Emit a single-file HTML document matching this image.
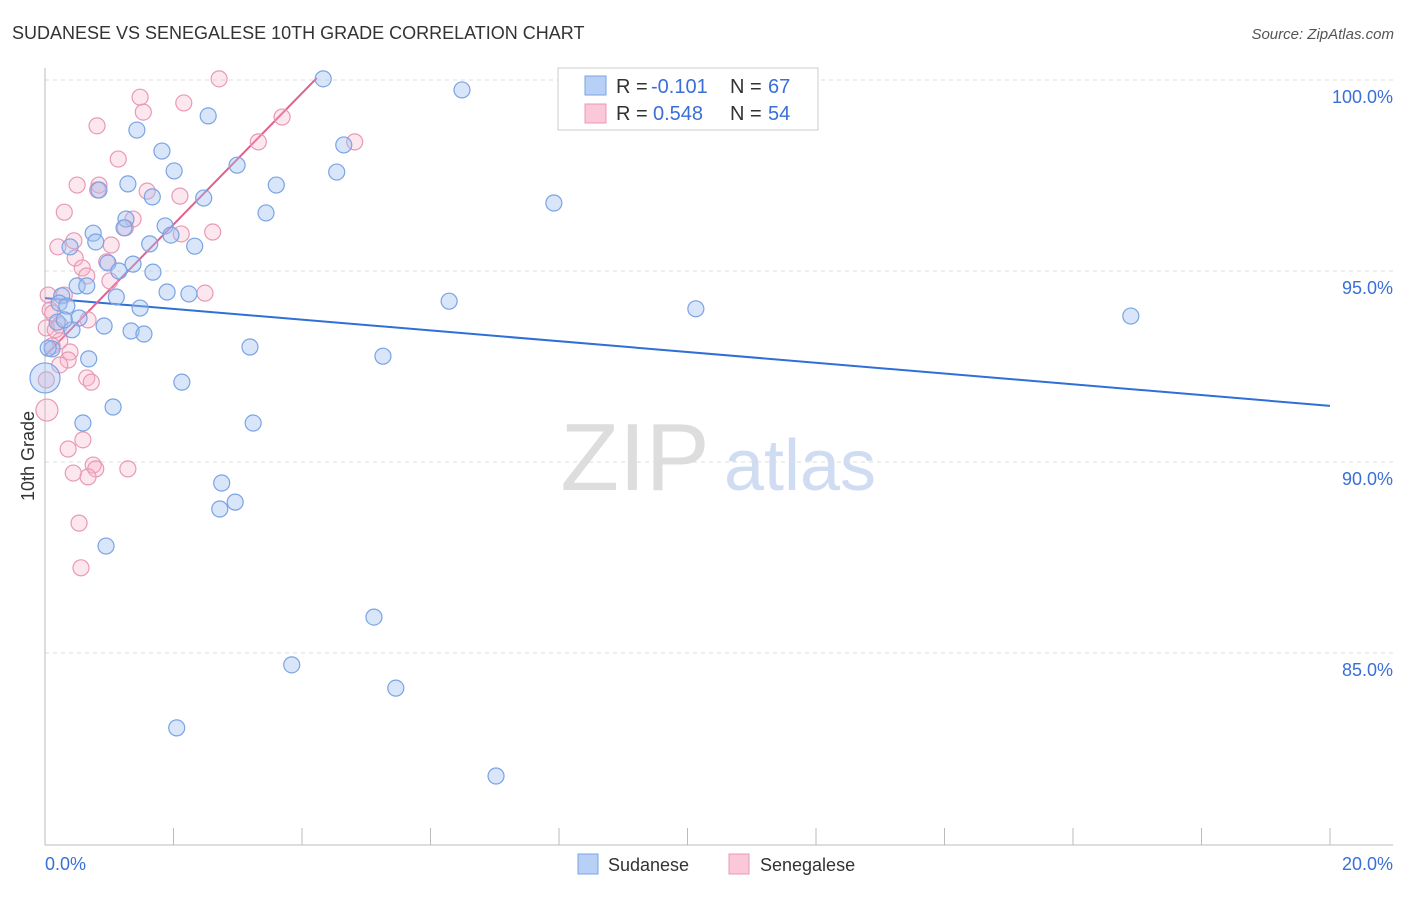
<!DOCTYPE html>
<html><head><meta charset="utf-8"><style>
body{margin:0;background:#fff;font-family:"Liberation Sans",sans-serif;}
svg text{font-family:"Liberation Sans",sans-serif;}
</style></head><body>
<svg id="chart" width="1406" height="892">
<text x="12" y="39" font-size="18" fill="#333">SUDANESE VS SENEGALESE 10TH GRADE CORRELATION CHART</text>
<text x="1394" y="39" font-size="15" fill="#555" font-style="italic" text-anchor="end">Source: ZipAtlas.com</text>
<text x="34" y="456" font-size="18" fill="#333" transform="rotate(-90 34 456)" text-anchor="middle">10th Grade</text>
<g>
<text x="635" y="490" font-size="96" fill="#ddd" font-family="Liberation Serif" text-anchor="middle">ZIP</text>
<text x="800" y="490" font-size="72" fill="#cfdcf2" text-anchor="middle">atlas</text></g>
<g id="grid"></g><g id="axes"></g><g id="trend"></g><g id="pts"></g>
<g>
<rect x="558" y="68" width="260" height="62" fill="#fff" stroke="#ccc"/>
<rect x="585" y="76" width="21" height="19" fill="#b8d0f5" stroke="#7aa3e5"/>
<rect x="585" y="104" width="21" height="19" fill="#fac8d8" stroke="#e899b5"/>
<text x="616" y="93" font-size="20" fill="#333">R =</text>
<text x="651" y="93" font-size="20" fill="#3a6fd8">-0.101</text>
<text x="730" y="93" font-size="20" fill="#333">N =</text>
<text x="768" y="93" font-size="20" fill="#3a6fd8">67</text>
<text x="616" y="120" font-size="20" fill="#333">R =</text>
<text x="653" y="120" font-size="20" fill="#3a6fd8">0.548</text>
<text x="730" y="120" font-size="20" fill="#333">N =</text>
<text x="768" y="120" font-size="20" fill="#3a6fd8">54</text>
</g>
<g>
<rect x="578" y="854" width="20" height="20" fill="#b8d0f5" stroke="#7aa3e5"/>
<text x="608" y="871" font-size="18" fill="#333">Sudanese</text>
<rect x="729" y="854" width="20" height="20" fill="#fac8d8" stroke="#e899b5"/>
<text x="760" y="871" font-size="18" fill="#333">Senegalese</text>
</g>
</svg>
<script>
const yTicks=[100,95,90,85];
const yTickLabels=["100.0%","95.0%","90.0%","85.0%"];
const xTicks=[0,2,4,6,8,10,12,14,16,18,20];
const xEndLabels=["0.0%","20.0%"];
const sudX=[4.33,6.49,2.54,1.43,4.65,1.82,2.01,2.99,4.54,1.29,3.60,0.84,1.67,2.47,7.92,3.44,1.26,1.23,1.87,0.75,1.96,0.39,0.79,1.63,2.33,0.98,1.37,1.15,1.68,0.50,0.65,1.90,2.24,1.11,0.26,6.29,1.48,10.13,16.90,0.22,0.34,0.19,0.53,0.92,0.42,1.34,1.54,3.19,0.11,5.26,0.68,0.00,2.13,1.06,0.59,3.24,2.75,2.96,2.72,0.95,5.12,3.84,5.46,2.05,7.02,0.05,0.30];
const sudY=[100.03,99.74,99.06,98.69,98.30,98.14,97.62,97.77,97.59,97.28,97.25,97.12,96.94,96.91,96.78,96.52,96.36,96.13,96.18,95.99,95.94,95.63,95.76,95.71,95.65,95.21,95.18,95.00,94.97,94.61,94.61,94.45,94.40,94.32,94.35,94.21,94.03,94.01,93.82,94.16,94.08,93.66,93.77,93.56,93.46,93.43,93.35,93.01,92.96,92.77,92.70,92.20,92.09,91.44,91.02,91.02,89.45,88.95,88.77,87.80,85.94,84.69,84.08,83.04,81.78,92.98,93.72];
const senX=[2.71,1.48,2.16,1.53,3.69,0.81,3.32,4.82,1.14,0.50,0.84,0.82,1.59,2.10,0.30,1.37,1.25,2.61,2.12,0.45,0.20,1.03,0.47,0.96,0.58,0.65,1.01,2.49,0.05,0.30,0.08,0.12,0.67,0.23,0.02,0.23,0.11,0.39,0.36,0.23,0.65,0.72,0.03,0.59,0.36,0.75,0.79,1.29,0.44,0.67,0.53,0.56,0.02,0.16];
const senY=[100.03,99.55,99.40,99.16,99.03,98.80,98.38,98.38,97.93,97.25,97.25,97.12,97.09,96.96,96.54,96.36,96.13,96.02,95.97,95.79,95.63,95.68,95.34,95.24,95.08,94.87,94.74,94.42,94.37,94.37,93.98,93.90,93.72,93.59,93.51,93.17,93.04,92.88,92.67,92.54,92.20,92.09,91.36,90.58,90.34,89.92,89.82,89.82,89.71,89.61,88.40,87.23,92.15,93.46];
const sudTrendX=[0,20], sudTrendY=[94.29,91.47];
const senTrendX=[0,4.23], senTrendY=[92.78,100.05];
const NS="http://www.w3.org/2000/svg";
const X=v=>45+v/20*1285, Y=v=>80+(100-v)*38.2;
function mk(t,a,p){const e=document.createElementNS(NS,t);for(const k in a)e.setAttribute(k,a[k]);p.appendChild(e);return e;}
const grid=document.getElementById('grid'),axes=document.getElementById('axes');
yTicks.forEach((v,i)=>{
 const l=mk('line',{x1:45,x2:1393,y1:Y(v),y2:Y(v),stroke:'#ddd','stroke-dasharray':'4,4'},grid);
 
 
 const t=mk('text',{x:1393,y:Y(v)+23,'font-size':18,fill:'#3a6fd8','text-anchor':'end'},axes);
 t.textContent=yTickLabels[i];
 
 
});
let a=mk('line',{x1:45,x2:45,y1:68,y2:845,stroke:'#bbb'},axes);


a=mk('line',{x1:45,x2:1393,y1:845,y2:845,stroke:'#bbb'},axes);


xTicks.forEach(v=>{const t=mk('line',{x1:X(v),x2:X(v),y1:828,y2:845,stroke:'#bbb'},axes);
 
 });
[[0,'start'],[20,'end']].forEach((p,i)=>{const t=mk('text',{x:i?1393:45,y:870,'font-size':18,fill:'#3a6fd8','text-anchor':p[1]},axes);t.textContent=xEndLabels[i];
 
 });
const pts=document.getElementById('pts');
senX.forEach((x,i)=>{const c=mk('circle',{cx:X(x),cy:Y(senY[i]),r:(i==42?11:8),fill:'rgba(248,175,200,0.3)',stroke:'#e899b5','stroke-width':1.2},pts);
 
 });
sudX.forEach((x,i)=>{const c=mk('circle',{cx:X(x),cy:Y(sudY[i]),r:(i==51?15:8),fill:'rgba(160,192,240,0.4)',stroke:'#7aa3e5','stroke-width':1.2},pts);
 
 });
const tr=document.getElementById('trend');
let l=mk('line',{x1:X(sudTrendX[0]),y1:Y(sudTrendY[0]),x2:X(sudTrendX[1]),y2:Y(sudTrendY[1]),stroke:'#2f6fd6','stroke-width':2},tr);


l=mk('line',{x1:X(senTrendX[0]),y1:Y(senTrendY[0]),x2:X(senTrendX[1]),y2:Y(senTrendY[1]),stroke:'#e0608f','stroke-width':2},tr);


</script>
</body></html>
